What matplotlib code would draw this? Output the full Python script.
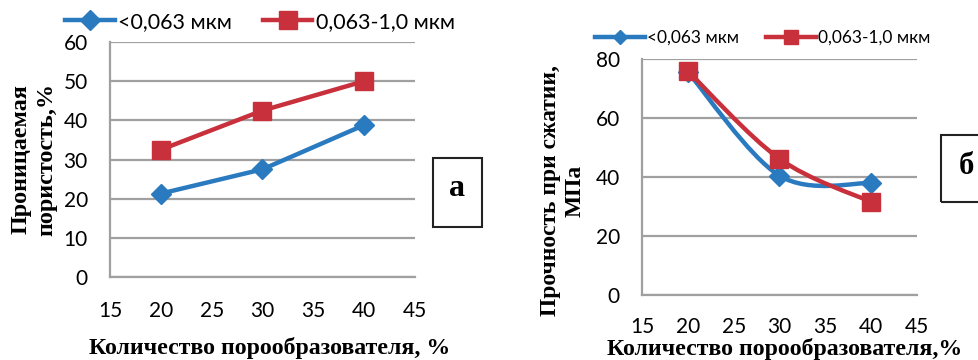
import matplotlib
matplotlib.use("Agg")
import matplotlib.pyplot as plt
from matplotlib.path import Path
from matplotlib.patches import PathPatch, Rectangle
from matplotlib.lines import Line2D

# ---- data ----
x_vals = [20, 30, 40]
series_names = ["<0,063 мкм", "0,063-1,0 мкм"]
porosity_fine = [21.3, 27.5, 38.8]
porosity_coarse = [32.5, 42.5, 50.0]
strength_fine = [75.5, 40.4, 37.9]
strength_coarse = [75.8, 46.1, 31.5]
x_ticks = [15, 20, 25, 30, 35, 40, 45]
y_ticks_a = [0, 10, 20, 30, 40, 50, 60]
y_ticks_b = [0, 20, 40, 60, 80]

BLUE = "#2a7ac0"
RED = "#c8303c"
GRID = "#a0a0a0"
W, H = 979, 360

fig = plt.figure(figsize=(W / 100, H / 100), dpi=100)
fig.patch.set_facecolor("white")

tick_font = "Lato"
serif = "Liberation Serif"


def px_axes(x0, y0, x1, y1):
    return fig.add_axes([x0 / W, 1 - y1 / H, (x1 - x0) / W, (y1 - y0) / H])


def ftext(x, y, s, **kw):
    return fig.text(x / W, 1 - y / H, s, **kw)


def style(ax, yticks, ylim, xpad):
    ax.set_xlim(15, 45)
    ax.set_ylim(*ylim)
    ax.set_xticks(x_ticks)
    ax.set_yticks(yticks)
    ax.grid(axis="y", color=GRID, lw=1.6)
    ax.set_axisbelow(True)
    for s in ["top", "right"]:
        ax.spines[s].set_visible(False)
    for s in ["left", "bottom"]:
        ax.spines[s].set_color(GRID)
        ax.spines[s].set_linewidth(1.6)
    ax.tick_params(length=0, labelsize=15, colors="black")
    ax.tick_params(axis="y", pad=16)
    ax.tick_params(axis="x", pad=xpad)
    for lab in ax.get_xticklabels() + ax.get_yticklabels():
        lab.set_fontfamily(tick_font)


def smooth_path(xs, ys):
    # Excel-style smoothed line (Catmull-Rom Bezier) through the data points
    pts = list(zip(xs, ys))
    n = len(pts)
    verts = [pts[0]]
    codes = [Path.MOVETO]
    for i in range(n - 1):
        p0 = pts[i - 1] if i > 0 else pts[i]
        p1 = pts[i]
        p2 = pts[i + 1]
        p3 = pts[i + 2] if i + 2 < n else pts[i + 1]
        c1 = (p1[0] + (p2[0] - p0[0]) / 6, p1[1] + (p2[1] - p0[1]) / 6)
        c2 = (p2[0] - (p3[0] - p1[0]) / 6, p2[1] - (p3[1] - p1[1]) / 6)
        verts += [c1, c2, p2]
        codes += [Path.CURVE4] * 3
    return Path(verts, codes)


label_kw = dict(fontfamily=serif, fontweight="bold")

# ---- panel а ----
axa = px_axes(110, 42, 415, 277)
style(axa, y_ticks_a, (0, 60), 17)
axa.plot(x_vals, porosity_fine, color=BLUE, lw=3.2, marker="D", ms=10, zorder=3)
axa.plot(x_vals, porosity_coarse, color=RED, lw=3.2, marker="s", ms=13, zorder=3)
ftext(34, 159, "Проницаемая\nпористость,%", rotation=90, ha="center", va="center",
      multialignment="center", fontsize=17.4, linespacing=1.3, **label_kw)
ftext(270, 354, "Количество порообразователя, %", ha="center", va="baseline",
      fontsize=17.2, **label_kw)

h1 = [Line2D([], [], color=BLUE, lw=3.2, marker="D", ms=10),
      Line2D([], [], color=RED, lw=3.2, marker="s", ms=13)]
fig.legend(h1, series_names, loc="center left", bbox_to_anchor=(65 / W, 1 - 22 / H),
           ncol=2, frameon=False, handlelength=2.3, handletextpad=0.15,
           columnspacing=1.45, borderpad=0, borderaxespad=0,
           prop={"family": tick_font, "size": 15.5})

# ---- panel б ----
axb = px_axes(642, 58.7, 917, 295)
style(axb, y_ticks_b, (0, 80), 16)
axb.add_patch(PathPatch(smooth_path(x_vals, strength_fine), fill=False,
                        edgecolor=BLUE, lw=3.2, zorder=3))
axb.plot(x_vals, strength_fine, ls="none", color=BLUE, marker="D", ms=10, zorder=3)
axb.add_patch(PathPatch(smooth_path(x_vals, strength_coarse), fill=False,
                        edgecolor=RED, lw=3.2, zorder=4))
axb.plot(x_vals, strength_coarse, ls="none", color=RED, marker="s", ms=13, zorder=4)
ftext(563, 191, "Прочность при сжатии,\nМПа", rotation=90, ha="center", va="center",
      multialignment="center", fontsize=16.9, linespacing=1.25, **label_kw)
ftext(785, 355, "Количество порообразователя,%", ha="center", va="baseline",
      fontsize=17.2, **label_kw)

h2 = [Line2D([], [], color=BLUE, lw=3.2, marker="D", ms=7),
      Line2D([], [], color=RED, lw=3.2, marker="s", ms=10)]
fig.legend(h2, series_names, loc="center left", bbox_to_anchor=(595 / W, 1 - 38 / H),
           ncol=2, frameon=False, handlelength=2.9, handletextpad=0.1,
           columnspacing=1.55, borderpad=0, borderaxespad=0,
           prop={"family": tick_font, "size": 12.5})

# ---- labels in boxes ----
fig.add_artist(Rectangle((433 / W, 1 - 227 / H), 49 / W, 69 / H, transform=fig.transFigure,
                         fill=False, edgecolor="#222222", lw=1.5))
ftext(457.5, 189, "а", fontsize=23, ha="center", va="center", **label_kw)
fig.add_artist(Rectangle((941 / W, 1 - 202 / H), 60 / W, 67 / H, transform=fig.transFigure,
                         fill=False, edgecolor="#222222", lw=1.5))
ftext(966, 166, "б", fontsize=22, ha="center", va="center", **label_kw)

fig.savefig("out.png", dpi=100, facecolor="white")
